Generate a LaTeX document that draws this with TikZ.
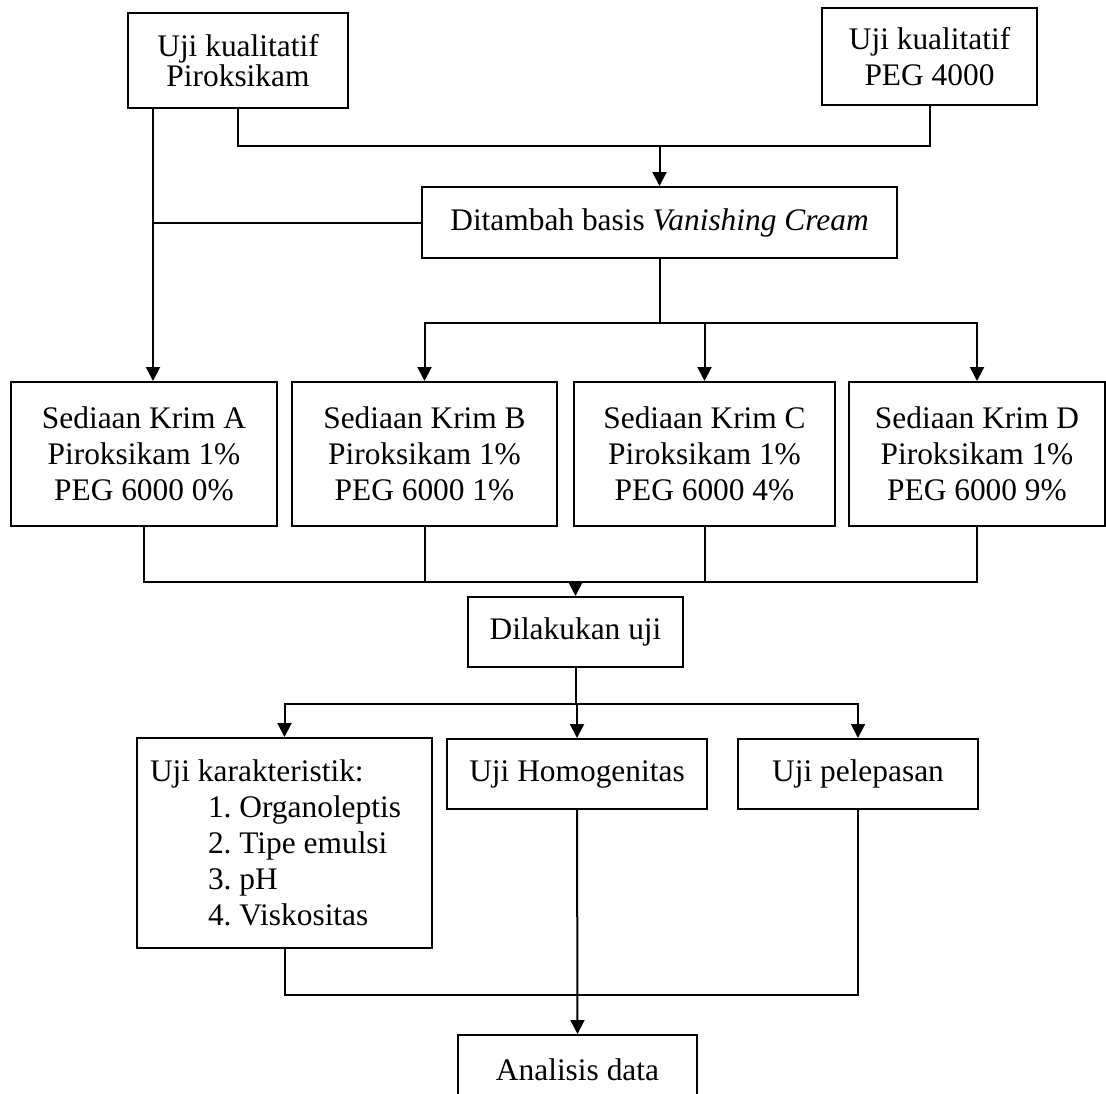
\documentclass[tikz,border=0pt]{standalone}
\usepackage{fontspec}
\setmainfont{Liberation Serif}
\usetikzlibrary{arrows.meta}
\frenchspacing

\begin{document}
\begin{tikzpicture}[x=0.5pt,y=-0.5pt,line width=1pt]
        \tikzstyle{kotak}=[draw, line width=1pt, inner sep=0pt, align=center, font=\fontsize{15.7}{18}\selectfont]
        \tikzstyle{krim}=[kotak, minimum height=72pt]
        \tikzstyle{tipis}=[kotak, minimum height=35pt]
        \tikzstyle{panah}=[-{Triangle[length=7pt,width=7pt]}]
        \useasboundingbox (0,0) rectangle (1106,1093);

        % bahan awal
        \node[kotak, minimum width=110pt, minimum height=47.5pt, font=\fontsize{15.7}{13.5}\selectfont] (pirox) at (238,60.5) {Uji kualitatif\\Piroksikam};
        \node[kotak, minimum width=107.5pt, minimum height=48.5pt] (peg) at (929.5,56.5) {Uji kualitatif\\PEG 4000};
        \node[kotak, minimum width=237.5pt, minimum height=35.5pt] (basis) at (659.5,222.5) {Ditambah basis \textit{Vanishing Cream}};

        % sediaan krim
        \node[krim, minimum width=133pt] (krimA) at (144,454) {Sediaan Krim A\\Piroksikam 1\%\\PEG 6000 0\%};
        \node[krim, minimum width=132.5pt] (krimB) at (424.5,454) {Sediaan Krim B\\Piroksikam 1\%\\PEG 6000 1\%};
        \node[krim, minimum width=130.5pt] (krimC) at (704.5,454) {Sediaan Krim C\\Piroksikam 1\%\\PEG 6000 4\%};
        \node[krim, minimum width=128pt] (krimD) at (977,454) {Sediaan Krim D\\Piroksikam 1\%\\PEG 6000 9\%};

        % pengujian
        \node[tipis, minimum width=107.5pt] (uji) at (575.5,632) {Dilakukan uji};
        \node[kotak, minimum width=147.5pt, minimum height=105pt, align=flush left, text width=134.5pt, inner xsep=6.5pt] (karak) at (284.5,843) {Uji karakteristik:\\
            \hspace*{29pt}1. Organoleptis\\
            \hspace*{29pt}2. Tipe emulsi\\
            \hspace*{29pt}3. pH\\
            \hspace*{29pt}4. Viskositas};
        \node[tipis, minimum width=130pt] (homog) at (577,774) {Uji Homogenitas};
        \node[tipis, minimum width=120pt] (lepas) at (858,774) {Uji pelepasan};
        \node[tipis, minimum width=119.5pt] (hasil) at (577.5,1070) {Analisis data};

        % titik cabang
        \coordinate (j1) at ([yshift=20pt]basis.north);
        \coordinate (j2) at ([yshift=-32pt]basis.south);
        \coordinate (j3) at ([yshift=7pt]uji.north);
        \coordinate (j4) at ([yshift=-18pt]uji.south);
        \coordinate (j5) at (577,995);
        \coordinate (aline) at ([xshift=4.5pt]krimA.north);

        % garis
        \draw[panah] (pirox.south -| aline) -- (aline);
        \draw (basis.west) -- (basis.west -| aline);
        \draw (pirox.south) |- (j1) -| (peg.south);
        \draw[panah] (j1) -- (basis.north);
        \draw (basis.south) -- (j2);
        \foreach \k in {krimB,krimC,krimD}
            \draw[panah] (j2) -| (\k.north);
        \foreach \k in {krimA,krimB,krimC,krimD}
            \draw (\k.south) |- (j3);
        \draw[panah] (j3) -- (uji.north);
        \draw (uji.south) -- (j4);
        \foreach \k in {karak,homog,lepas}
            \draw[panah] (j4) -| (\k.north);
        \draw (karak.south) |- (j5) -| (lepas.south);
        \draw[panah] (homog.south) -- (hasil.north);
\end{tikzpicture}
\end{document}
